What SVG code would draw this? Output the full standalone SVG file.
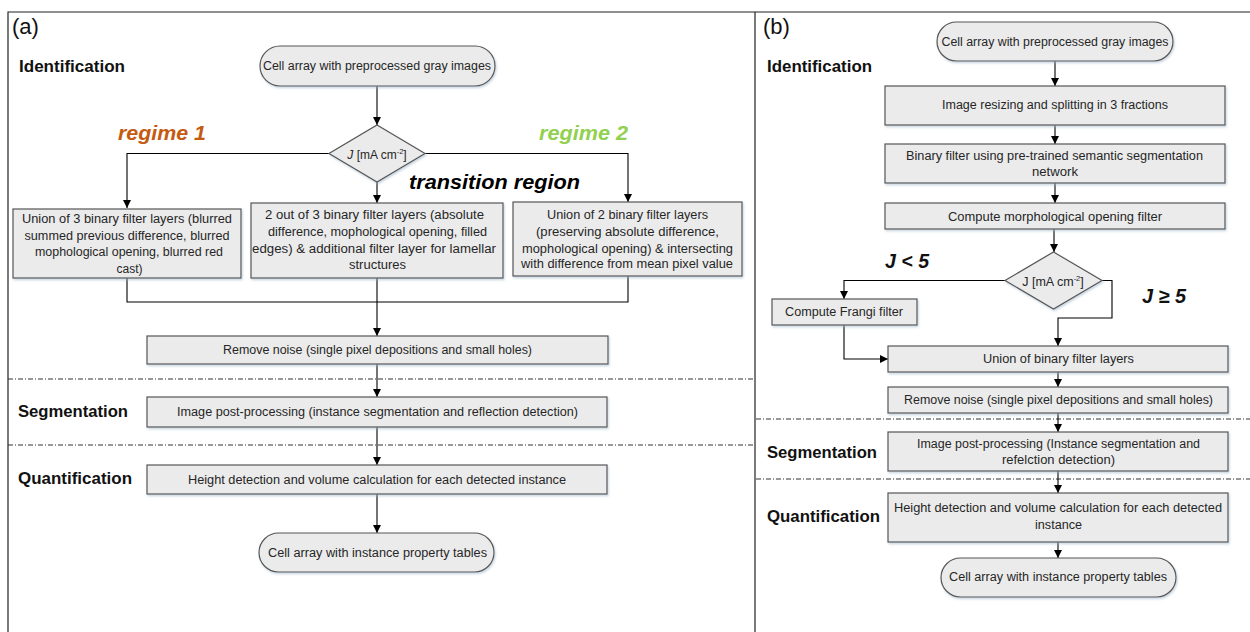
<svg xmlns="http://www.w3.org/2000/svg" width="1250" height="632" viewBox="0 0 1250 632">
<defs>
<marker id="arr" viewBox="0 0 10 10" refX="10" refY="5" markerWidth="9" markerHeight="8" markerUnits="userSpaceOnUse" orient="auto">
<path d="M0,0 L10,5 L0,10 z" fill="#000"/>
</marker>
<filter id="sh" x="-5%" y="-10%" width="110%" height="130%">
<feDropShadow dx="1" dy="1.5" stdDeviation="1" flood-color="#9fb4c8" flood-opacity="0.6"/>
</filter>
</defs>
<style>
.box{fill:#ebebeb;stroke:#555;stroke-width:1.2;filter:url(#sh)}
.t{font-family:"Liberation Sans",Arial,sans-serif;font-size:12px;fill:#262626;text-anchor:middle;dominant-baseline:central}
.tb{font-family:"Liberation Sans",Arial,sans-serif;font-size:12.5px;fill:#262626;text-anchor:middle;dominant-baseline:central}
.lab{font-family:"Liberation Sans",Arial,sans-serif;font-size:16px;font-weight:bold;fill:#111}
.pan{font-family:"Liberation Sans",Arial,sans-serif;font-size:22px;fill:#111}
.reg{font-family:"Liberation Sans",Arial,sans-serif;font-size:20px;font-weight:bold;font-style:italic}
.con{fill:none;stroke:#000;stroke-width:1.1}
.dd{stroke:#333;stroke-width:1.1;stroke-dasharray:5 2 1 2;fill:none}
.frame{stroke:#222;stroke-width:1.2;fill:none}
</style>

<g id="frame">
<path class="frame" d="M8,632 V12 H1250"/>
<path class="frame" d="M755,12 V632" stroke-width="2"/>
<line class="dd" x1="8" y1="379" x2="754" y2="379"/>
<line class="dd" x1="8" y1="445" x2="754" y2="445"/>
<line class="dd" x1="756" y1="419" x2="1250" y2="419"/>
<line class="dd" x1="756" y1="479" x2="1250" y2="479"/>
</g>

<g id="labels">
<text class="pan" x="12" y="34">(a)</text>
<text class="lab" x="19" y="72" textLength="106" lengthAdjust="spacingAndGlyphs">Identification</text>
<text class="lab" x="18" y="417" textLength="110" lengthAdjust="spacingAndGlyphs">Segmentation</text>
<text class="lab" x="18" y="484" textLength="114" lengthAdjust="spacingAndGlyphs">Quantification</text>
<text class="reg" x="118" y="140" fill="#C55A11" textLength="88" lengthAdjust="spacingAndGlyphs">regime 1</text>
<text class="reg" x="539" y="140" fill="#92D050" textLength="89" lengthAdjust="spacingAndGlyphs">regime 2</text>
<text class="reg" x="409" y="189" fill="#000" textLength="171" lengthAdjust="spacingAndGlyphs">transition region</text>
<text class="pan" x="763" y="34">(b)</text>
<text class="lab" x="767" y="72" textLength="105" lengthAdjust="spacingAndGlyphs">Identification</text>
<text class="lab" x="767" y="458" textLength="110" lengthAdjust="spacingAndGlyphs">Segmentation</text>
<text class="lab" x="767" y="522" textLength="113" lengthAdjust="spacingAndGlyphs">Quantification</text>
<text class="reg" x="885" y="268" fill="#111" textLength="44" lengthAdjust="spacingAndGlyphs">J &lt; 5</text>
<text class="reg" x="1142" y="303" fill="#111" textLength="44" lengthAdjust="spacingAndGlyphs">J ≥ 5</text>
</g>

<g id="connectors">
<path class="con" d="M377,86 V125" marker-end="url(#arr)"/>
<path class="con" d="M329,153.5 H127 V208" marker-end="url(#arr)"/>
<path class="con" d="M425,153.5 H628 V202" marker-end="url(#arr)"/>
<path class="con" d="M377,182 V203" marker-end="url(#arr)"/>
<path class="con" d="M127,278 V302 H628 V276"/>
<path class="con" d="M377,278 V336" marker-end="url(#arr)"/>
<path class="con" d="M377,364 V397" marker-end="url(#arr)"/>
<path class="con" d="M377,427 V465" marker-end="url(#arr)"/>
<path class="con" d="M377,494 V533" marker-end="url(#arr)"/>
<path class="con" d="M1055,61 V86" marker-end="url(#arr)"/>
<path class="con" d="M1055,125 V144" marker-end="url(#arr)"/>
<path class="con" d="M1055,183 V203" marker-end="url(#arr)"/>
<path class="con" d="M1054,229 V252" marker-end="url(#arr)"/>
<path class="con" d="M1005,280.5 H844 V299" marker-end="url(#arr)"/>
<path class="con" d="M844,325 V359 H888" marker-end="url(#arr)"/>
<path class="con" d="M1102,280.5 H1112 V318 H1058 V346" marker-end="url(#arr)"/>
<path class="con" d="M1058,372 V387" marker-end="url(#arr)"/>
<path class="con" d="M1058,413 V432" marker-end="url(#arr)"/>
<path class="con" d="M1058,471 V493" marker-end="url(#arr)"/>
<path class="con" d="M1058,542 V558" marker-end="url(#arr)"/>
</g>

<g id="a-start">
<rect class="box" x="260" y="46" width="235" height="40" rx="20"/>
<text class="t" x="377" y="66" textLength="228" lengthAdjust="spacingAndGlyphs">Cell array with preprocessed gray images</text>
</g>
<g id="a-decision">
<polygon class="box" points="377,125 425,153.5 377,182 329,153.5"/>
<text class="t" x="377" y="155" font-size="11"><tspan font-style="italic">J</tspan> [mA cm<tspan font-size="7.5" dy="-4">-2</tspan><tspan dy="4">]</tspan></text>
</g>
<g id="a-regime1">
<rect class="box" x="13" y="209" width="228" height="69"/>
<text class="t" x="127" y="219" textLength="210" lengthAdjust="spacingAndGlyphs">Union of 3 binary filter layers (blurred</text>
<text class="t" x="127" y="235.5" textLength="205" lengthAdjust="spacingAndGlyphs">summed previous difference, blurred</text>
<text class="t" x="129" y="252" textLength="188" lengthAdjust="spacingAndGlyphs">mophological opening, blurred red</text>
<text class="t" x="129.5" y="268.5">cast)</text>
</g>
<g id="a-transition">
<rect class="box" x="251" y="203" width="252" height="75"/>
<text class="t" x="374.5" y="215" textLength="219" lengthAdjust="spacingAndGlyphs">2 out of 3 binary filter layers (absolute</text>
<text class="t" x="377.5" y="232" textLength="219" lengthAdjust="spacingAndGlyphs">difference, mophological opening, filled</text>
<text class="t" x="374" y="249" textLength="244" lengthAdjust="spacingAndGlyphs">edges) &amp; additional filter layer for lamellar</text>
<text class="t" x="377.5" y="265" textLength="57" lengthAdjust="spacingAndGlyphs">structures</text>
</g>
<g id="a-regime2">
<rect class="box" x="513" y="202" width="229" height="74"/>
<text class="t" x="627.5" y="215" textLength="161" lengthAdjust="spacingAndGlyphs">Union of 2 binary filter layers</text>
<text class="t" x="627.5" y="232" textLength="183" lengthAdjust="spacingAndGlyphs">(preserving absolute difference,</text>
<text class="t" x="627.5" y="249" textLength="211" lengthAdjust="spacingAndGlyphs">mophological opening) &amp; intersecting</text>
<text class="t" x="627" y="264" textLength="212" lengthAdjust="spacingAndGlyphs">with difference from mean pixel value</text>
</g>
<g id="a-noise">
<rect class="box" x="147" y="336" width="461" height="28"/>
<text class="t" x="377.5" y="350" textLength="309" lengthAdjust="spacingAndGlyphs">Remove noise (single pixel depositions and small holes)</text>
</g>
<g id="a-seg">
<rect class="box" x="147" y="397" width="460" height="30"/>
<text class="t" x="377.5" y="412" textLength="401" lengthAdjust="spacingAndGlyphs">Image post-processing (instance segmentation and reflection detection)</text>
</g>
<g id="a-quant">
<rect class="box" x="147" y="465" width="460" height="29"/>
<text class="t" x="377" y="479.5" textLength="378" lengthAdjust="spacingAndGlyphs">Height detection and volume calculation for each detected instance</text>
</g>
<g id="a-end">
<rect class="box" x="259" y="533" width="235" height="39" rx="19.5"/>
<text class="t" x="377.5" y="553" textLength="219" lengthAdjust="spacingAndGlyphs">Cell array with instance property tables</text>
</g>

<g id="b-start">
<rect class="box" x="937" y="22" width="236" height="39" rx="19.5"/>
<text class="tb" x="1055" y="42" textLength="227" lengthAdjust="spacingAndGlyphs">Cell array with preprocessed gray images</text>
</g>
<g id="b-resize">
<rect class="box" x="885" y="86" width="340" height="39"/>
<text class="tb" x="1055" y="105" textLength="226" lengthAdjust="spacingAndGlyphs">Image resizing and splitting in 3 fractions</text>
</g>
<g id="b-binary">
<rect class="box" x="885" y="144" width="340" height="39"/>
<text class="tb" x="1054.5" y="156" textLength="297" lengthAdjust="spacingAndGlyphs">Binary filter using pre-trained semantic segmentation</text>
<text class="tb" x="1055" y="172" textLength="46" lengthAdjust="spacingAndGlyphs">network</text>
</g>
<g id="b-morph">
<rect class="box" x="885" y="203" width="340" height="26"/>
<text class="tb" x="1055" y="216.5" textLength="214" lengthAdjust="spacingAndGlyphs">Compute morphological opening filter</text>
</g>
<g id="b-decision">
<polygon class="box" points="1053.5,252 1102,280.5 1053.5,309 1005,280.5"/>
<text class="tb" x="1053" y="282" font-size="11">J [mA cm<tspan font-size="7.5" dy="-4">-2</tspan><tspan dy="4">]</tspan></text>
</g>
<g id="b-frangi">
<rect class="box" x="772" y="299" width="145" height="26"/>
<text class="tb" x="844" y="311.5" textLength="118" lengthAdjust="spacingAndGlyphs">Compute Frangi filter</text>
</g>
<g id="b-union">
<rect class="box" x="888" y="346" width="340" height="26"/>
<text class="tb" x="1058.5" y="359" textLength="151" lengthAdjust="spacingAndGlyphs">Union of binary filter layers</text>
</g>
<g id="b-noise">
<rect class="box" x="888" y="387" width="340" height="26"/>
<text class="tb" x="1058.5" y="400" textLength="309" lengthAdjust="spacingAndGlyphs">Remove noise (single pixel depositions and small holes)</text>
</g>
<g id="b-seg">
<rect class="box" x="888" y="432" width="340" height="39"/>
<text class="tb" x="1058.5" y="443.5" textLength="283" lengthAdjust="spacingAndGlyphs">Image post-processing (Instance segmentation and</text>
<text class="tb" x="1058.5" y="460" textLength="113" lengthAdjust="spacingAndGlyphs">refelction detection)</text>
</g>
<g id="b-quant">
<rect class="box" x="888" y="493" width="340" height="49"/>
<text class="tb" x="1058" y="508" textLength="328" lengthAdjust="spacingAndGlyphs">Height detection and volume calculation for each detected</text>
<text class="tb" x="1058.5" y="525" textLength="47" lengthAdjust="spacingAndGlyphs">instance</text>
</g>
<g id="b-end">
<rect class="box" x="941" y="558" width="235" height="39" rx="19.5"/>
<text class="tb" x="1058" y="577" textLength="218" lengthAdjust="spacingAndGlyphs">Cell array with instance property tables</text>
</g>
</svg>
